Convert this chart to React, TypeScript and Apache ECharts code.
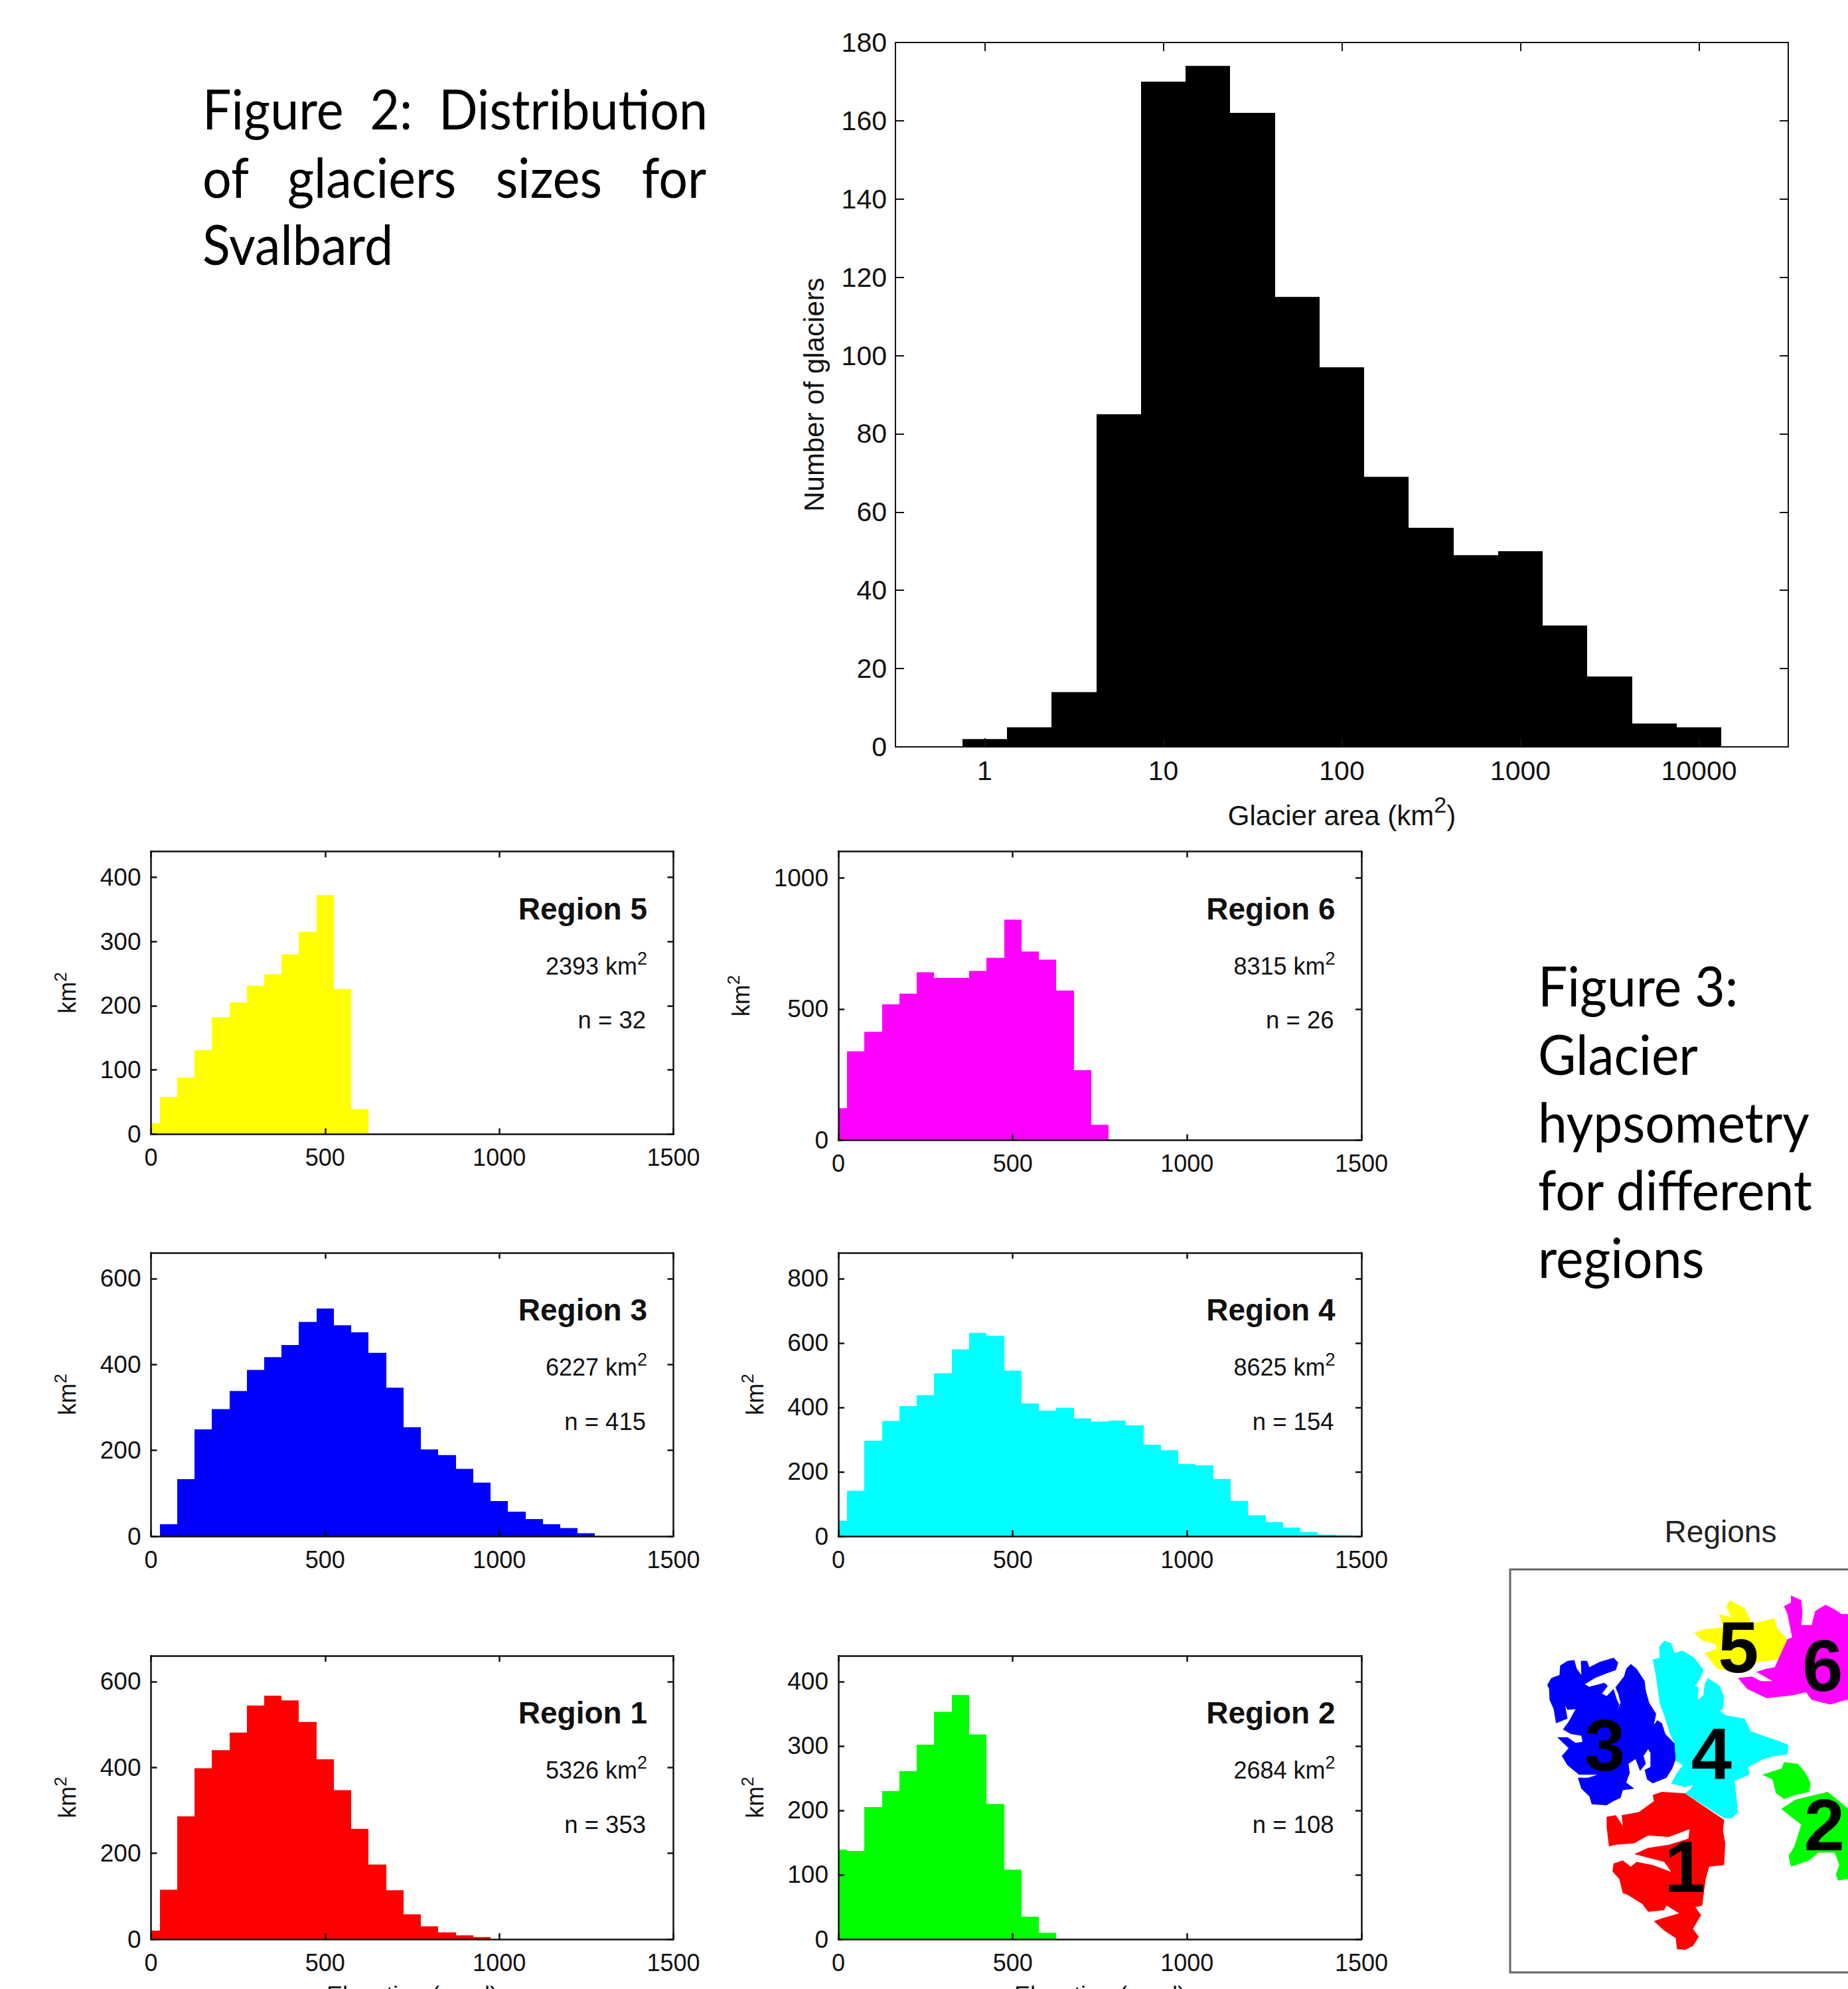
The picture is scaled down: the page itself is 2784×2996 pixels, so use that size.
import React, { useEffect, useRef } from "react";
import * as echarts from "echarts";

const FONT = "'Liberation Sans', Arial, sans-serif";
const CAPTION = "Lato, 'Noto Sans', sans-serif";

// Figure 2: histogram of glacier sizes (log10-spaced bins, quarter decade wide, first bin centred on 1 km2)
const areaCounts = [2, 5, 14, 85, 170, 174, 162, 115, 97, 69, 56, 49, 50, 31, 18, 6, 5];
const areaTicks = [1, 10, 100, 1000, 10000];
const countTicks = [0, 20, 40, 60, 80, 100, 120, 140, 160, 180];

// Figure 3: hypsometry per 50 m elevation bin, first bin centred on 0 m
const region1 = [20, 115, 286, 398, 440, 481, 544, 567, 556, 506, 419, 347, 257, 174, 114, 58, 30, 16, 9, 5];
const region2 = [139, 137, 205, 230, 261, 302, 353, 379, 318, 210, 108, 35, 10];
const region3 = [0, 28, 133, 249, 296, 338, 387, 417, 445, 499, 530, 491, 475, 427, 346, 254, 202, 189, 157, 125, 82, 57, 40, 28, 19, 7];
const region4 = [48, 141, 297, 358, 404, 438, 506, 580, 631, 622, 514, 412, 390, 399, 366, 356, 359, 344, 284, 267, 224, 220, 178, 110, 65, 44, 27, 13, 5, 3];
const region5 = [17, 58, 88, 131, 182, 205, 231, 249, 280, 315, 372, 226, 39];
const region6 = [122, 339, 413, 518, 558, 640, 618, 618, 645, 695, 840, 719, 688, 570, 267, 59];
const elevationTicks = [0, 500, 1000, 1500];

const panels = [
  { name: "Region 5", area: "2393", n: "n = 32", values: region5, color: "#ffff00", box: [227.5, 1282.5, 787, 426], ymax: 440, ticks: [0, 100, 200, 300, 400], gap: 108, xname: false },
  { name: "Region 6", area: "8315", n: "n = 26", values: region6, color: "#ff00ff", box: [1263, 1282.5, 788, 435], ymax: 1100, ticks: [0, 500, 1000], gap: 129, xname: false },
  { name: "Region 3", area: "6227", n: "n = 415", values: region3, color: "#0000ff", box: [227.5, 1887, 787, 427], ymax: 660, ticks: [0, 200, 400, 600], gap: 108, xname: false },
  { name: "Region 4", area: "8625", n: "n = 154", values: region4, color: "#00ffff", box: [1263, 1887, 788, 427], ymax: 880, ticks: [0, 200, 400, 600, 800], gap: 108, xname: false },
  { name: "Region 1", area: "5326", n: "n = 353", values: region1, color: "#ff0000", box: [227.5, 2494, 787, 427], ymax: 660, ticks: [0, 200, 400, 600], gap: 108, xname: true },
  { name: "Region 2", area: "2684", n: "n = 108", values: region2, color: "#00ff00", box: [1263, 2494, 788, 427], ymax: 440, ticks: [0, 100, 200, 300, 400], gap: 108, xname: true },
];

// Outlines of the inset map
type Pts = number[][];
const map3: Pts = [[262,592],[280,570],[315,560],[318,530],[350,515],[380,512],[390,540],[410,560],[408,515],[435,515],[445,535],[490,518],[550,505],[570,520],[560,545],[520,555],[470,570],[425,590],[445,598],[510,585],[525,595],[500,620],[520,628],[550,605],[565,640],[575,655],[565,675],[580,650],[570,620],[558,600],[595,565],[605,540],[625,525],[650,540],[685,580],[690,610],[705,650],[735,685],[725,720],[740,705],[760,715],[775,750],[815,780],[820,830],[805,860],[780,890],[720,908],[695,895],[685,865],[710,855],[710,810],[700,798],[680,820],[690,845],[665,868],[645,830],[615,845],[620,875],[605,905],[640,925],[590,930],[580,955],[550,965],[520,978],[455,975],[445,950],[410,925],[395,890],[440,890],[480,880],[400,880],[350,850],[325,820],[355,795],[305,760],[350,760],[385,778],[415,775],[410,755],[365,750],[330,735],[355,710],[385,670],[350,672],[340,660],[350,700],[300,715],[290,670],[272,640],[270,605]];
const map4: Pts = [[720,510],[750,505],[748,470],[770,450],[800,458],[815,490],[850,482],[900,505],[942,545],[915,585],[903,595],[920,600],[915,640],[940,625],[945,590],[960,570],[1010,595],[1030,630],[1025,670],[1010,675],[1040,690],[1080,695],[1120,700],[1145,740],[1200,755],[1260,770],[1310,785],[1305,815],[1250,820],[1200,830],[1135,855],[1140,880],[1075,900],[1085,960],[1090,1000],[1065,1020],[1030,1020],[860,940],[885,925],[895,912],[860,920],[800,908],[825,875],[850,850],[820,835],[815,780],[795,750],[770,690],[750,650],[735,570]];
const map1: Pts = [[860,940],[1030,1025],[1025,1060],[1035,1100],[1030,1170],[965,1175],[950,1215],[935,1300],[905,1305],[930,1330],[895,1375],[920,1400],[895,1430],[860,1442],[825,1440],[820,1405],[770,1380],[725,1350],[765,1340],[835,1325],[780,1300],[770,1315],[700,1320],[675,1295],[610,1265],[590,1260],[575,1215],[545,1190],[550,1165],[590,1155],[625,1175],[650,1160],[720,1170],[800,1192],[770,1160],[640,1135],[700,1115],[790,1105],[875,1085],[880,1055],[790,1080],[700,1075],[640,1100],[560,1105],[530,1110],[520,1050],[520,1015],[560,1010],[590,1045],[585,1010],[660,1000],[725,965],[720,945],[760,935]];
const map5: Pts = [[900,425],[950,412],[1000,410],[1025,405],[1008,365],[1060,375],[1040,340],[1055,320],[1090,335],[1120,345],[1150,395],[1210,385],[1250,378],[1260,410],[1305,445],[1265,510],[1165,520],[1035,545],[1000,540],[945,490],[1000,475],[990,460],[935,450]];
const map6: Pts = [[1305,445],[1325,440],[1305,365],[1290,340],[1320,328],[1320,305],[1365,320],[1370,360],[1365,400],[1410,400],[1425,355],[1470,335],[1510,350],[1540,365],[1568,365],[1600,365],[1600,640],[1560,640],[1490,655],[1410,640],[1385,615],[1330,625],[1215,635],[1130,605],[1090,570],[1150,565],[1190,580],[1240,580],[1170,550],[1215,540],[1250,535],[1265,510]];
const map2a: Pts = [[1195,880],[1280,860],[1290,840],[1350,845],[1380,870],[1405,905],[1400,935],[1340,945],[1290,958],[1255,940],[1240,895]];
const map2b: Pts = [[1278,990],[1340,960],[1480,935],[1530,965],[1600,1010],[1600,1210],[1525,1220],[1515,1200],[1530,1170],[1510,1130],[1440,1130],[1400,1155],[1320,1175],[1310,1140],[1335,1110],[1365,1040],[1320,1015]];
const mapShapes: [Pts, string][] = [[map3, "#0000ff"], [map4, "#00ffff"], [map1, "#ff0000"], [map5, "#ffff00"], [map6, "#ff00ff"], [map2a, "#00ff00"], [map2b, "#00ff00"]];
const mapDigits: [string, number, number][] = [["1", 860, 1175], ["2", 1465, 1040], ["3", 512, 785], ["4", 975, 810], ["5", 1092, 470], ["6", 1458, 530]];
const mx = (z: number) => 2240 + z / 2.882;
const my = (z: number) => 2260 + z / 2.13;

const fig2Lines: [string, number][] = [["Figure  2:  Distribution", 192.7], ["of   glaciers   sizes   for", 295], ["Svalbard", 396.7]];
const fig3Lines: [string, number][] = [["Figure 3:", 1513.7], ["Glacier", 1616], ["hypsometry", 1718], ["for different", 1820.5], ["regions", 1922.7]];

const renderBin = (color: string) => (_p: any, api: any) => {
  const a = api.coord([api.value(0), 0]);
  const b = api.coord([api.value(1), api.value(2)]);
  const x0 = Math.round(a[0]), x1 = Math.round(b[0]);
  return {
    type: "rect",
    shape: { x: x0, y: b[1], width: x1 - x0, height: a[1] - b[1] },
    style: { fill: color },
  };
};

function axisPair(kind: "x" | "y", common: any, ticks: number[], font: number, margin: number, tickLen: number, lineW: number, labelPad: number[] = [0, 0, 0, 0]) {
  const line = { show: true, onZero: false, lineStyle: { color: "#111", width: lineW } };
  const main = {
    ...common,
    position: kind === "x" ? "bottom" : "left",
    axisLine: line,
    splitLine: { show: false },
    axisTick: { show: true, inside: true, length: tickLen, customValues: ticks, lineStyle: { color: "#111", width: lineW } },
    axisLabel: { show: true, customValues: ticks, color: "#111", fontFamily: FONT, fontSize: font, margin, padding: labelPad, hideOverlap: false, formatter: (v: number) => String(v), showMinLabel: true, showMaxLabel: true },
    z: 5,
  };
  const mirror = {
    ...common,
    name: undefined,
    position: kind === "x" ? "top" : "right",
    axisLine: line,
    splitLine: { show: false },
    axisTick: { show: true, inside: true, length: tickLen, customValues: ticks, lineStyle: { color: "#111", width: lineW } },
    axisLabel: { show: false },
    z: 5,
  };
  return [main, mirror];
}

// Rich-text styles for a base run with a raised exponent
function supRich(base: number, sup: number, lift: number) {
  return {
    b: { fontFamily: FONT, fontSize: base, lineHeight: base, verticalAlign: "bottom", color: "#111" },
    s: { fontFamily: FONT, fontSize: sup, lineHeight: sup + lift, padding: [0, 0, lift, 0], verticalAlign: "top", color: "#111" },
  };
}

function buildOption() {
  const grid: any[] = [];
  const xAxis: any[] = [];
  const yAxis: any[] = [];
  const series: any[] = [];
  const graphic: any[] = [];

  // Figure 2 panel
  grid.push({ left: 1349, top: 64, width: 1345, height: 1061, outerBoundsMode: "none" });
  xAxis.push(...axisPair("x", {
    type: "log", logBase: 10, min: Math.pow(10, -0.5), max: Math.pow(10, 4.5), gridIndex: 0,
    name: "{b|Glacier area (km}{s|2}{b|)}", nameLocation: "middle", nameGap: 70,
    nameTextStyle: { fontFamily: FONT, fontSize: 42, color: "#111", rich: supRich(42, 34, 20) },
  }, areaTicks, 41, 15, 13, 2));
  yAxis.push(...axisPair("y", {
    type: "value", min: 0, max: 180, gridIndex: 0,
    name: "Number of glaciers", nameLocation: "middle", nameGap: 102,
    nameTextStyle: { fontFamily: FONT, fontSize: 42, color: "#111" },
  }, countTicks, 41, 13, 13, 2));
  series.push({
    type: "custom", xAxisIndex: 0, yAxisIndex: 0, clip: true,
    renderItem: renderBin("#000000"), encode: { x: [0, 1], y: 2 },
    data: areaCounts.map((v, i) => [Math.pow(10, -0.125 + 0.25 * i), Math.pow(10, 0.125 + 0.25 * i), v]),
  });

  // Figure 3 panels
  panels.forEach((p, idx) => {
    const g = idx + 1;
    const [left, top, width, height] = p.box;
    grid.push({ left, top, width, height, outerBoundsMode: "none" });
    xAxis.push(...axisPair("x", {
      type: "value", min: 0, max: 1500, gridIndex: g,
      ...(p.xname ? { name: "Elevation (masl)", nameLocation: "middle", nameGap: 66, nameTextStyle: { fontFamily: FONT, fontSize: 36, color: "#111" } } : {}),
    }, elevationTicks, 36, 17, 9, 2.5));
    yAxis.push(...axisPair("y", {
      type: "value", min: 0, max: p.ymax, gridIndex: g,
      name: "{b|km}{s|2}", nameLocation: "middle", nameGap: p.gap,
      nameTextStyle: { fontFamily: FONT, fontSize: 36, color: "#111", rich: supRich(36, 26, 16) },
    }, p.ticks, 37, 15, 9, 2.5, [0, 0, 5, 0]));
    series.push({
      type: "custom", xAxisIndex: g * 2, yAxisIndex: g * 2, clip: true,
      renderItem: renderBin(p.color), encode: { x: [0, 1], y: 2 },
      data: p.values.map((v, i) => [i * 50 - 25, i * 50 + 25, v]),
    });
    const rx = left + width - 39.5;
    graphic.push(
      { type: "text", x: rx, y: top + 86, style: { text: p.name, align: "right", verticalAlign: "middle", fontFamily: FONT, fontWeight: "bold", fontSize: 46, fill: "#111" } },
      { type: "text", x: rx, y: top + 169, style: { text: `{b|${p.area} km}{s|2}`, align: "right", verticalAlign: "middle", fontFamily: FONT, fontSize: 36, fill: "#111", rich: supRich(36, 27, 16) } },
      { type: "text", x: rx - 2, y: top + 254, style: { text: p.n, align: "right", verticalAlign: "middle", fontFamily: FONT, fontSize: 36.5, fill: "#111" } },
    );
  });

  // Captions
  const caption = (text: string, x: number, base: number, sx: number) => ({
    type: "text", x, y: base, scaleX: sx,
    style: { text, align: "left", verticalAlign: "bottom", lineHeight: 84, fontFamily: CAPTION, fontSize: 84, fill: "#000" },
  });
  fig2Lines.forEach(([t, b]) => graphic.push(caption(t, 305, b + 12, 0.92)));
  fig3Lines.forEach(([t, b]) => graphic.push(caption(t, 2317, b + 12, 0.935)));

  // Inset map
  graphic.push(
    { type: "text", x: 2592, y: 2307, style: { text: "Regions", align: "center", verticalAlign: "middle", fontFamily: FONT, fontSize: 46, fill: "#222" } },
    { type: "rect", shape: { x: 2275, y: 2364, width: 700, height: 607 }, style: { fill: "#fff", stroke: "#666", lineWidth: 3 } },
  );
  mapShapes.forEach(([pts, color]) =>
    graphic.push({ type: "polygon", shape: { points: pts.map(([a, b]) => [mx(a), my(b)]) }, style: { fill: color } }),
  );
  mapDigits.forEach(([t, a, b]) =>
    graphic.push({ type: "text", x: mx(a), y: my(b), style: { text: t, align: "center", verticalAlign: "middle", fontFamily: FONT, fontWeight: "bold", fontSize: 110, fill: "#000" } }),
  );

  return { animation: false, backgroundColor: "#ffffff", grid, xAxis, yAxis, series, graphic: { elements: graphic } };
}

export default function App() {
  const ref = useRef<HTMLDivElement>(null);
  useEffect(() => {
    const chart = echarts.init(ref.current!, undefined, { renderer: "svg" });
    chart.setOption(buildOption() as any);
    return () => chart.dispose();
  }, []);
  return <div ref={ref} style={{ position: "absolute", left: 0, top: 0, width: 2784, height: 2996 }} />;
}
